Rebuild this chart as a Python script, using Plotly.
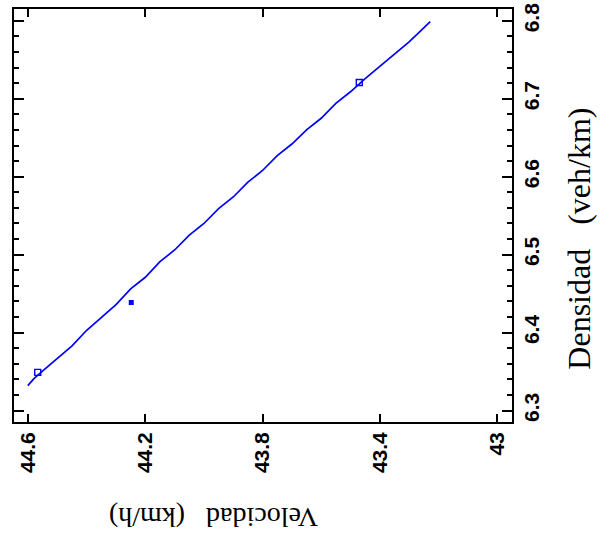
import plotly.graph_objects as go

# Data: velocity (km/h) vs density (veh/km)
velocidad = [44.601, 44.58, 44.55, 44.50, 44.45, 44.40, 44.35, 44.30, 44.25, 44.20, 44.15,
             44.10, 44.05, 44.00, 43.95, 43.90, 43.85, 43.80, 43.75, 43.70, 43.65,
             43.60, 43.55, 43.50, 43.45, 43.40, 43.35, 43.30, 43.25, 43.228]
densidad = [6.332, 6.341, 6.351, 6.367, 6.383, 6.403, 6.419, 6.436, 6.456, 6.471, 6.491,
            6.506, 6.525, 6.540, 6.559, 6.574, 6.593, 6.608, 6.627, 6.642, 6.660,
            6.675, 6.694, 6.709, 6.726, 6.742, 6.757, 6.773, 6.791, 6.799]

marker_vel_open = [44.567, 43.470]
marker_den_open = [6.349, 6.7208]
marker_vel_fill = [44.248]
marker_den_fill = [6.4386]

x_ticks = [44.6, 44.2, 43.8, 43.4, 43.0]
x_ticktext = ["44.6", "44.2", "43.8", "43.4", "43"]
y_ticks = [6.3, 6.4, 6.5, 6.6, 6.7, 6.8]
y_ticktext = ["6.3", "6.4", "6.5", "6.6", "6.7", "6.8"]

W, H = 611, 535
L, R, T, B = 14, 99, 3, 113

fig = go.Figure()
fig.add_trace(go.Scatter(x=velocidad, y=densidad, mode="lines",
                         line=dict(color="#0000FF", width=1.7), showlegend=False))
fig.add_trace(go.Scatter(x=marker_vel_open, y=marker_den_open, mode="markers",
                         marker=dict(symbol="square-open", size=6, color="#0000FF",
                                     line=dict(width=1.4, color="#0000FF")), showlegend=False))
fig.add_trace(go.Scatter(x=marker_vel_fill, y=marker_den_fill, mode="markers",
                         marker=dict(symbol="square", size=5, color="#0000FF"), showlegend=False))

tf = dict(family="Liberation Sans, Arial", size=21, color="black", weight="bold")

fig.update_layout(
    width=W, height=H,
    margin=dict(l=L, r=R, t=T, b=B),
    paper_bgcolor="white", plot_bgcolor="white",
    xaxis=dict(range=[44.648, 42.949], tickvals=x_ticks, ticktext=x_ticktext,
               tickangle=-90, ticks="inside", ticklen=8, tickwidth=1.6, tickcolor="black",
               showline=True, linewidth=1.6, linecolor="black", mirror="ticks",
               showgrid=False, zeroline=False, tickfont=tf, ticklabeloverflow="allow"),
    yaxis=dict(range=[6.2853, 6.8152], side="right", tickvals=y_ticks, ticktext=y_ticktext,
               tickangle=-90, ticks="inside", ticklen=10, tickwidth=1.6, tickcolor="black",
               showline=True, linewidth=1.6, linecolor="black", mirror="ticks",
               showgrid=False, zeroline=False,
               minor=dict(dtick=0.02, tick0=6.3, ticks="inside", ticklen=5, tickwidth=1.6,
                          tickcolor="black", showgrid=False),
               tickfont=tf, ticklabeloverflow="allow"),
)

pw, ph = W - L - R, H - T - B
def px2paper(px, py):
    return (px - L) / pw, (H - B - py) / ph

NB = "\u00a0"
ax, ay = px2paper(214, 519)
fig.add_annotation(x=ax, y=ay, xref="paper", yref="paper",
                   text="Velocidad" + NB * 3 + "(km/h)",
                   textangle=180, showarrow=False, xanchor="center", yanchor="middle",
                   font=dict(family="Liberation Serif, Times New Roman", size=28, color="black"))
bx, by = px2paper(579, 236)
fig.add_annotation(x=bx, y=by, xref="paper", yref="paper",
                   text="Densidad" + NB * 3 + "(veh/km)",
                   textangle=-90, showarrow=False, xanchor="center", yanchor="middle",
                   font=dict(family="Liberation Serif, Times New Roman", size=32, color="black"))

fig.write_html("out.html")
